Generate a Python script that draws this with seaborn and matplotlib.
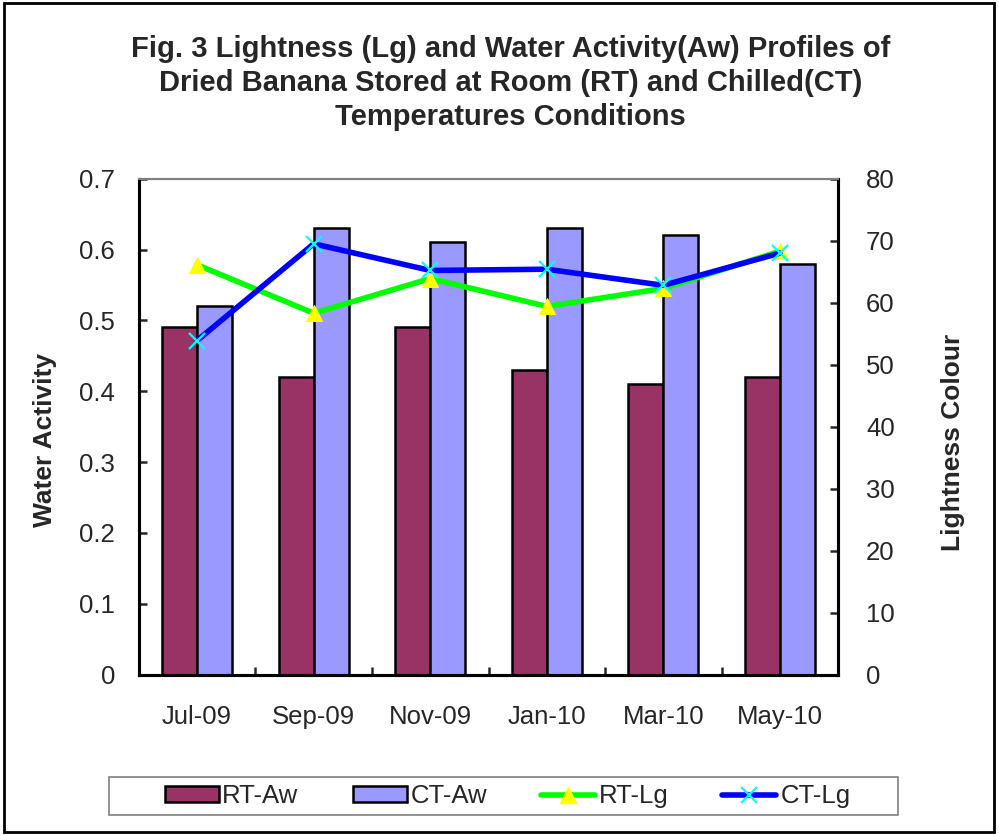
import numpy as np
import pandas as pd
import matplotlib
matplotlib.use("Agg")
import matplotlib.pyplot as plt
import seaborn as sns
from matplotlib.lines import Line2D
from matplotlib.patches import Patch, Rectangle
from matplotlib.ticker import FuncFormatter, MultipleLocator

# values
months = ["Jul-09", "Sep-09", "Nov-09", "Jan-10", "Mar-10", "May-10"]
rt_aw = [0.49, 0.42, 0.49, 0.43, 0.41, 0.42]
ct_aw = [0.52, 0.63, 0.61, 0.63, 0.62, 0.58]
rt_lg = [66.1, 58.3, 63.9, 59.4, 62.3, 68.3]
ct_lg = [53.9, 69.5, 65.2, 65.4, 62.8, 68.0]

sns.set_style("white")
plt.rcParams["font.family"] = ["Liberation Sans", "DejaVu Sans"]

bar_df = pd.DataFrame({
    "month": months * 2,
    "aw": rt_aw + ct_aw,
    "series": ["RT-Aw"] * len(months) + ["CT-Aw"] * len(months),
})

fig = plt.figure(figsize=(9.99, 8.35), dpi=100)
ax = fig.add_axes([0.139, 0.192, 0.700, 0.594])

sns.barplot(data=bar_df, x="month", y="aw", hue="series",
            palette=["#993366", "#9999FF"], width=0.6, saturation=1,
            edgecolor="black", linewidth=1.8, ax=ax, legend=False)
ax.set_xlim(-0.5, len(months) - 0.5)
ax.set_ylim(0, 0.7)
ax.yaxis.set_major_locator(MultipleLocator(0.1))
ax.yaxis.set_major_formatter(FuncFormatter(lambda v, p: f"{v:g}"))
ax.set_xlabel("")
ax.set_ylabel("")

# lightness on the right axis
ax2 = ax.twinx()
x = np.arange(len(months))
sns.lineplot(x=x, y=rt_lg, ax=ax2, color="#00FF00", linewidth=4,
             marker="^", markersize=12, markerfacecolor="yellow",
             markeredgecolor="yellow")
sns.lineplot(x=x, y=ct_lg, ax=ax2, color="#0000FF", linewidth=4,
             marker="x", markersize=12, markeredgecolor="#00FFFF",
             markeredgewidth=1.6)
ax2.set_ylim(0, 80)
ax2.yaxis.set_major_locator(MultipleLocator(10))
ax2.set_xlim(-0.5, len(months) - 0.5)

# spines and ticks
for a in (ax, ax2):
    for side in ("left", "right", "bottom"):
        a.spines[side].set_color("black")
        a.spines[side].set_linewidth(2.2)
    a.spines["top"].set_color("#808080")
    a.spines["top"].set_linewidth(1.5)

ax.tick_params(axis="y", direction="in", length=6, width=1.8, pad=17,
               labelsize=18.5)
ax2.tick_params(axis="y", direction="in", length=6, width=1.8, pad=20,
                labelsize=18.5)
ax.set_xticks(x)
ax.set_xticklabels(months)
ax.set_xticks(np.arange(len(months) + 1) - 0.5, minor=True)
ax.tick_params(axis="x", which="major", length=0, pad=22, labelsize=18.5)
ax.tick_params(axis="x", which="minor", direction="in", length=6, width=1.8)
ax.tick_params(axis="x", which="minor", bottom=True)

# titles and axis labels
fig.text(0.511, 0.958,
         "Fig. 3 Lightness (Lg) and Water Activity(Aw) Profiles of\n"
         "Dried Banana Stored at Room (RT) and Chilled(CT)\n"
         "Temperatures Conditions",
         ha="center", va="top", fontsize=21, fontweight="bold",
         linespacing=1.28)
fig.text(0.045, 0.473, "Water Activity", rotation=90, ha="center",
         va="center", fontsize=19, fontweight="bold")
fig.text(0.954, 0.470, "Lightness Colour", rotation=90, ha="center",
         va="center", fontsize=19, fontweight="bold")

# legend at the bottom, frame drawn separately
handles = [
    Patch(facecolor="#993366", edgecolor="black", linewidth=1.8),
    Patch(facecolor="#9999FF", edgecolor="black", linewidth=1.8),
    Line2D([], [], color="#00FF00", linewidth=4, marker="^", markersize=12,
           markerfacecolor="yellow", markeredgecolor="yellow"),
    Line2D([], [], color="#0000FF", linewidth=4, marker="x", markersize=12,
           markeredgecolor="#00FFFF", markeredgewidth=1.6),
]
fig.legend(handles, ["RT-Aw", "CT-Aw", "RT-Lg", "CT-Lg"],
           loc="center", ncol=4, bbox_to_anchor=(0.508, 0.0465),
           fontsize=18.5, frameon=False, handlelength=2.1,
           handleheight=0.55, handletextpad=0.15, columnspacing=2.1)
fig.patches.append(Rectangle((0.109, 0.024), 0.790, 0.045, transform=fig.transFigure,
                             fill=False, edgecolor="#808080", linewidth=1.2))

# outer frame
fig.patches.append(Rectangle((0.004, 0.003), 0.991, 0.994, transform=fig.transFigure,
                             fill=False, edgecolor="black", linewidth=2))

fig.savefig("out.png", dpi=100)
